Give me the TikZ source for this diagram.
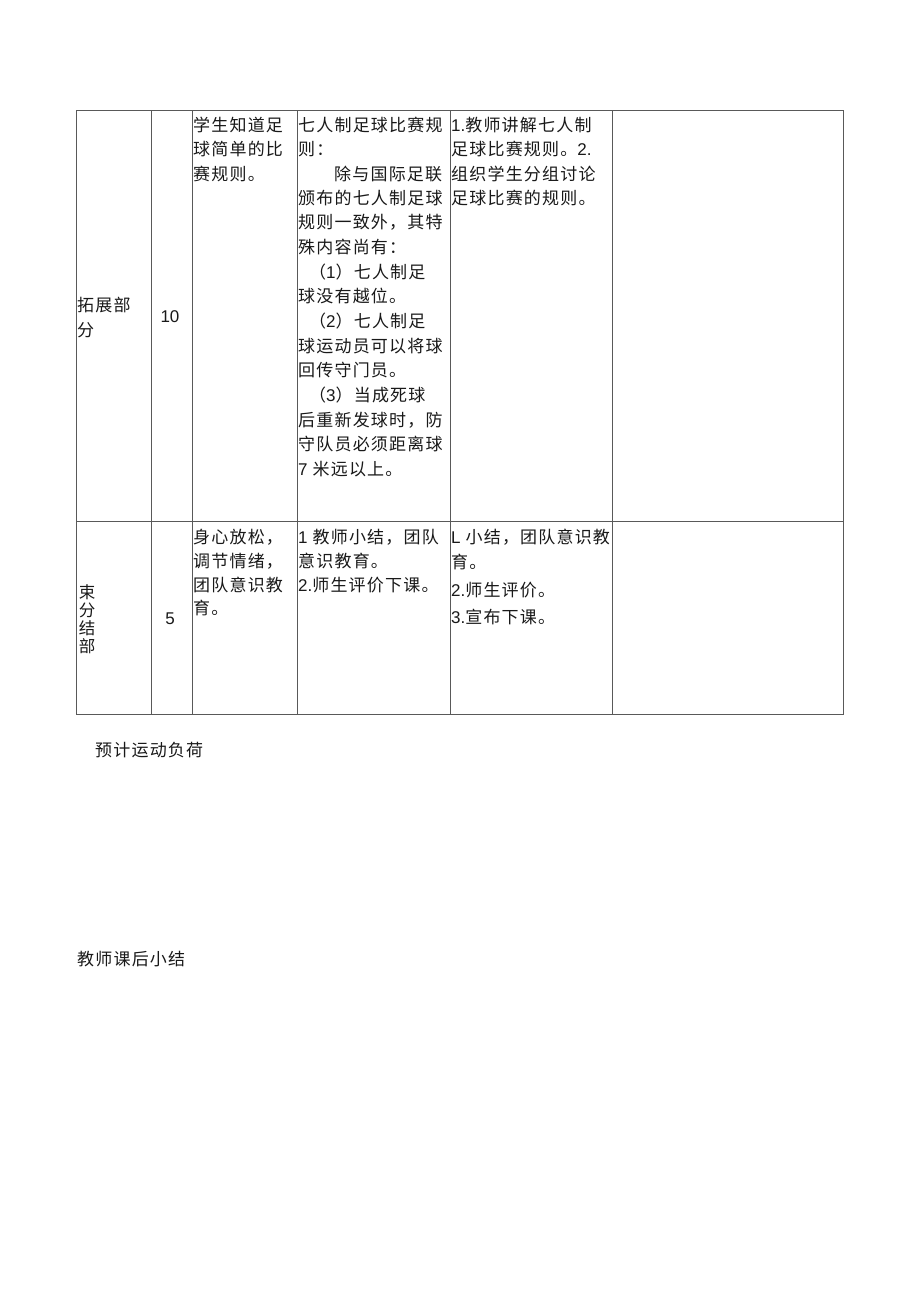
\documentclass[tikz,border=0pt]{standalone}
\usepackage{fontspec}
\setmainfont[LetterSpace=7]{Noto Sans CJK SC}
\newfontfamily\cjkplain{Noto Sans CJK SC}
\newfontfamily\lat{Liberation Sans}
\newcommand{\cellfont}{\fontsize{17}{20}\selectfont}
\newcommand{\vertfont}{\cjkplain\fontsize{16.5}{18}\selectfont}
\tikzset{
  gridline/.style={draw=black!65, line width=0.9pt},
  txt/.style={anchor=west, inner sep=0pt, font=\cellfont, text=black!90},
  ctxt/.style={anchor=center, inner sep=0pt, font=\lat\cellfont, text=black!90},
  vtxt/.style={anchor=center, inner sep=0pt, font=\vertfont, text=black!90}
}
\begin{document}
\begin{tikzpicture}[x=1pt,y=-1pt]
\useasboundingbox[fill=white] (0,0) rectangle (920,1301);
% table grid
\draw[gridline] (76,110) rectangle (843,714);
\draw[gridline] (76,521) -- (843,521);
\foreach \xx in {151,192,297,450,612}{\draw[gridline] (\xx,110) -- (\xx,714);}
% row 1
\node[txt] (r1a) at (77,305) {拓展部};
\node[txt] (r1b) at (77,330) {分};
\node[ctxt] (r1t) at (170,317) {10};
\node[txt] (g1) at (193,125) {学生知道足};
\node[txt] (g2) at (193,149) {球简单的比};
\node[txt] (g3) at (193,174) {赛规则。};
\node[txt] (k1) at (298,125) {七人制足球比赛规};
\node[txt] (k2) at (298,149) {则：};
\node[txt] (k3) at (334,174) {除与国际足联};
\node[txt] (k4) at (298,198) {颁布的七人制足球};
\node[txt] (k5) at (298,222) {规则一致外，其特};
\node[txt] (k6) at (298,247) {殊内容尚有：};
\node[txt] (k7) at (309,272) {（{\lat 1}）七人制足};
\node[txt] (k8) at (298,296) {球没有越位。};
\node[txt] (k9) at (309,321) {（{\lat 2}）七人制足};
\node[txt] (k10) at (298,346) {球运动员可以将球};
\node[txt] (k11) at (298,370) {回传守门员。};
\node[txt] (k12) at (309,395) {（{\lat 3}）当成死球};
\node[txt] (k13) at (298,420) {后重新发球时，防};
\node[txt] (k14) at (298,444) {守队员必须距离球};
\node[txt] (k15) at (298,469) {{\lat 7} 米远以上。};
\node[txt] (m1) at (451,125) {{\lat 1.}教师讲解七人制};
\node[txt] (m2) at (451,149) {足球比赛规则。{\lat 2.}};
\node[txt] (m3) at (451,174) {组织学生分组讨论};
\node[txt] (m4) at (451,198) {足球比赛的规则。};
% row 2
\node[vtxt] (v1) at (87,592) {束};
\node[vtxt] (v2) at (87,610) {分};
\node[vtxt] (v3) at (87,628) {结};
\node[vtxt] (v4) at (87,646) {部};
\node[ctxt] (r2t) at (170,619) {5};
\node[txt] (h1) at (193,537) {身心放松，};
\node[txt] (h2) at (193,561) {调节情绪，};
\node[txt] (h3) at (193,585) {团队意识教};
\node[txt] (h4) at (193,608) {育。};
\node[txt] (p1) at (298,537) {{\lat 1} 教师小结，团队};
\node[txt] (p2) at (298,561) {意识教育。};
\node[txt] (p3) at (298,585) {{\lat 2.}师生评价下课。};
\node[txt] (q1) at (451,537) {{\lat L} 小结，团队意识教};
\node[txt] (q2) at (451,562) {育。};
\node[txt] (q3) at (451,590) {{\lat 2.}师生评价。};
\node[txt] (q4) at (451,617) {{\lat 3.}宣布下课。};
% below table
\node[txt] (load) at (95,750) {预计运动负荷};
\node[txt] (summ) at (77,959) {教师课后小结};
\end{tikzpicture}
\end{document}
